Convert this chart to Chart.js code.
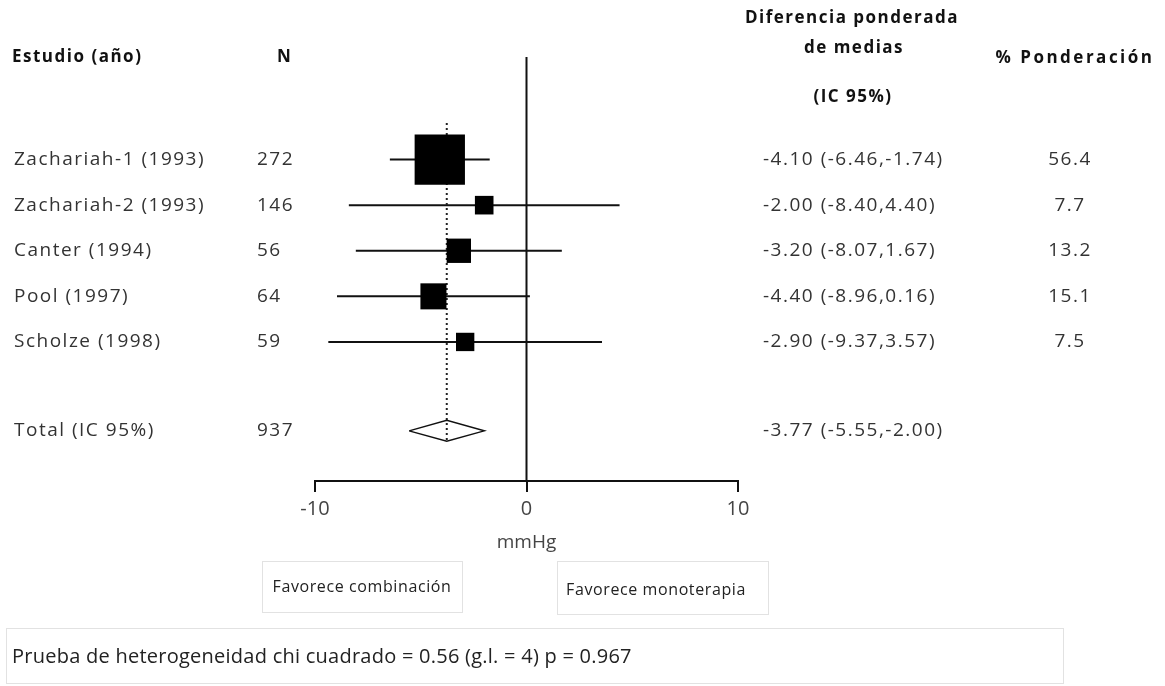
<!DOCTYPE html>
<html>
<head>
<meta charset="utf-8">
<script src="https://cdn.jsdelivr.net/npm/chart.js@4.4.1/dist/chart.umd.min.js"></script>
<style>
body { margin: 0; background: #fff; }
</style>
</head>
<body>
<canvas id="forest" width="1165" height="686"></canvas>
<script>
var studies = ['Zachariah-1 (1993)', 'Zachariah-2 (1993)', 'Canter (1994)', 'Pool (1997)', 'Scholze (1998)'];
var nValues = [272, 146, 56, 64, 59];
var estimates = [-4.10, -2.00, -3.20, -4.40, -2.90];
var lower = [-6.46, -8.40, -8.07, -8.96, -9.37];
var upper = [-1.74, 4.40, 1.67, 0.16, 3.57];
var weights = [56.4, 7.7, 13.2, 15.1, 7.5];
var totalLabel = 'Total (IC 95%)';
var totalN = [937];
var totalCI = [-3.77, -5.55, -2.00];
var xTicks = [-10, 0, 10];
var chiText = 'Prueba de heterogeneidad chi cuadrado = 0.56 (g.l. = 4) p = 0.967';

var totalRow = 6.95;
var diamondHalf = 0.23;
var FONT = 'Open Sans';

function rowOf(i) { return i + 1; }
function fmt(v) { return v.toFixed(2); }

var datasets = [];
// squares sized by weight
datasets.push({
    label: 'Ponderación',
    data: estimates.map(function (e, i) { return { x: e, y: rowOf(i) }; }),
    pointStyle: 'rect',
    pointRadius: weights.map(function (w) { return 6.7 * Math.sqrt(w) / Math.SQRT2; }),
    backgroundColor: '#000',
    borderWidth: 0,
    clip: false,
    order: 0
});
// confidence intervals
studies.forEach(function (s, i) {
    datasets.push({
        label: s,
        data: [{ x: lower[i], y: rowOf(i) }, { x: upper[i], y: rowOf(i) }],
        showLine: true,
        borderColor: '#111',
        borderWidth: 2,
        pointRadius: 0,
        order: 2
    });
});
// pooled diamond
datasets.push({
    label: totalLabel,
    data: [
        { x: totalCI[1], y: totalRow },
        { x: totalCI[0], y: totalRow - diamondHalf },
        { x: totalCI[2], y: totalRow },
        { x: totalCI[0], y: totalRow + diamondHalf },
        { x: totalCI[1], y: totalRow }
    ],
    showLine: true,
    borderColor: '#111',
    borderWidth: 1.5,
    pointRadius: 0,
    order: 1
});
// dotted pooled line
datasets.push({
    label: 'pooled',
    data: [{ x: totalCI[0], y: 0.2 }, { x: totalCI[0], y: totalRow + diamondHalf }],
    showLine: true,
    borderColor: '#222',
    borderWidth: 2,
    borderDash: [2, 3],
    pointRadius: 0,
    order: 1
});

var zeroLine = {
    id: 'zeroLine',
    beforeDatasetsDraw: function (chart) {
        var ctx = chart.ctx, a = chart.chartArea;
        var x0 = chart.scales.x.getPixelForValue(0);
        ctx.save();
        ctx.strokeStyle = '#111';
        ctx.lineWidth = 2;
        ctx.beginPath();
        ctx.moveTo(x0, a.top);
        ctx.lineTo(x0, a.bottom);
        ctx.stroke();
        ctx.restore();
    }
};

function box(ctx, x, y, w, h) {
    ctx.strokeStyle = '#e2e2e2';
    ctx.lineWidth = 1;
    ctx.strokeRect(x + 0.5, y + 0.5, w, h);
}

var tableText = {
    id: 'tableText',
    afterDraw: function (chart) {
        var ctx = chart.ctx, ys = chart.scales.y;
        ctx.save();
        ctx.textBaseline = 'middle';

        // headers
        ctx.fillStyle = '#111';
        ctx.font = 'bold 17px "' + FONT + '"';
        ctx.letterSpacing = '1.5px';
        ctx.textAlign = 'left';
        ctx.fillText('Estudio (año)', 12, 57);
        ctx.fillText('N', 277, 57);
        ctx.textAlign = 'center';
        ctx.fillText('Diferencia ponderada', 852, 18);
        ctx.fillText('de medias', 854, 48);
        ctx.fillText('(IC 95%)', 853, 97);
        ctx.letterSpacing = '2.5px';
        ctx.fillText('% Ponderación', 1075, 58);

        // rows
        ctx.fillStyle = '#333';
        ctx.font = '19px "' + FONT + '"';
        ctx.letterSpacing = '1.5px';
        studies.forEach(function (s, i) {
            var y = ys.getPixelForValue(rowOf(i));
            ctx.textAlign = 'left';
            ctx.fillText(s, 14, y);
            ctx.fillText(String(nValues[i]), 257, y);
            ctx.fillText(fmt(estimates[i]) + ' (' + fmt(lower[i]) + ',' + fmt(upper[i]) + ')', 763, y);
            ctx.textAlign = 'center';
            ctx.fillText(weights[i].toFixed(1), 1070, y);
        });
        var yt = ys.getPixelForValue(totalRow);
        ctx.textAlign = 'left';
        ctx.fillText(totalLabel, 14, yt);
        ctx.fillText(String(totalN[0]), 257, yt);
        ctx.fillText(fmt(totalCI[0]) + ' (' + fmt(totalCI[1]) + ',' + fmt(totalCI[2]) + ')', 763, yt);

        // favour boxes
        box(ctx, 262, 561, 200, 51);
        box(ctx, 557, 561, 211, 53);
        ctx.font = '16px "' + FONT + '"';
        ctx.letterSpacing = '0.6px';
        ctx.fillStyle = '#222';
        ctx.textAlign = 'center';
        ctx.fillText('Favorece combinación', 362, 587);
        ctx.fillText('Favorece monoterapia', 656, 590);

        // heterogeneity footer
        box(ctx, 6, 628, 1057, 55);
        ctx.textAlign = 'left';
        ctx.letterSpacing = '0.25px';
        ctx.font = '20px "' + FONT + '"';
        ctx.fillStyle = '#222';
        ctx.fillText(chiText, 12, 657, 620);
        ctx.restore();
    }
};

var ctx = document.getElementById('forest').getContext('2d');
var forestChart = new Chart(ctx, {
    type: 'scatter',
    data: { datasets: datasets },
    options: {
        responsive: false,
        animation: false,
        events: [],
        layout: { padding: { left: 315, right: 427, top: 57, bottom: 129 } },
        scales: {
            x: {
                type: 'linear',
                min: -10,
                max: 10,
                afterBuildTicks: function (scale) {
                    scale.ticks = xTicks.map(function (v) { return { value: v }; });
                },
                afterFit: function (scale) { scale.height = 76; },
                ticks: {
                    color: '#444',
                    padding: 5,
                    font: { family: FONT, size: 20 }
                },
                grid: {
                    display: true,
                    drawOnChartArea: false,
                    drawTicks: true,
                    tickLength: 11,
                    color: '#111',
                    lineWidth: 2
                },
                border: { display: true, color: '#111', width: 2 },
                title: {
                    display: true,
                    text: 'mmHg',
                    color: '#444',
                    padding: { top: 4, bottom: 3 },
                    font: { family: FONT, size: 19 }
                }
            },
            y: {
                type: 'linear',
                reverse: true,
                min: -1.25,
                max: 8.05,
                display: false
            }
        },
        plugins: {
            legend: { display: false },
            tooltip: { enabled: false }
        }
    },
    plugins: [zeroLine, tableText]
});
</script>
</body>
</html>
